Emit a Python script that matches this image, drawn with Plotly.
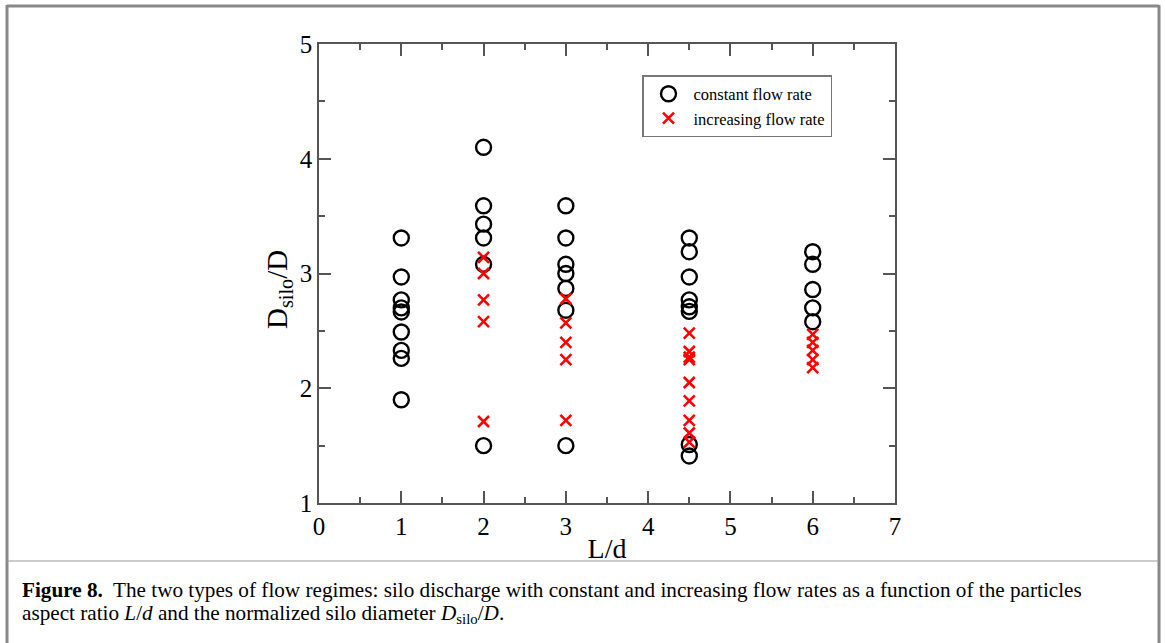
import plotly.graph_objects as go

# Data
const_x = [1]*9 + [2]*6 + [3]*7 + [4.5]*8 + [6]*5
const_y = [3.31, 2.97, 2.77, 2.70, 2.665, 2.49, 2.33, 2.26, 1.90,
           4.10, 3.59, 3.43, 3.31, 3.08, 1.50,
           3.59, 3.31, 3.08, 3.00, 2.87, 2.68, 1.50,
           3.31, 3.19, 2.97, 2.77, 2.71, 2.67, 1.51, 1.41,
           3.19, 3.08, 2.86, 2.70, 2.58]
incr_x = [2]*5 + [3]*5 + [4.5]*9 + [6]*5
incr_y = [3.14, 3.00, 2.77, 2.58, 1.71,
          2.78, 2.57, 2.40, 2.25, 1.72,
          2.48, 2.32, 2.27, 2.05, 1.89, 1.72, 1.61, 1.53, 2.25,
          2.47, 2.40, 2.33, 2.25, 2.18]

W, H = 1165, 643
L, R, T, B = 319, 895, 44, 503
def px(x): return (x - L) / (R - L)
def py(y): return (B - y) / (B - T)

AX = "#555555"
fig = go.Figure()
fig.add_trace(go.Scatter(x=const_x, y=const_y, mode="markers", name="constant flow rate",
                         marker=dict(symbol="circle-open", size=15, color="black",
                                     line=dict(width=2.4, color="black"))))
fig.add_trace(go.Scatter(x=incr_x, y=incr_y, mode="markers", name="increasing flow rate",
                         marker=dict(symbol="x-thin-open", size=11, color="red",
                                     line=dict(width=2.6, color="red"))))

tickfont = dict(family="Liberation Serif", size=25, color="black")
fig.update_layout(
    width=W, height=H, plot_bgcolor="white", paper_bgcolor="white",
    margin=dict(l=L, r=W - R, t=T, b=H - B, pad=0),
    showlegend=True,
    legend=dict(x=px(642), y=py(75), xanchor="left", yanchor="top",
                bgcolor="white", bordercolor="#777777", borderwidth=1.5,
                font=dict(family="Liberation Serif", size=16.5, color="black"),
                itemwidth=40, tracegroupgap=0),
    xaxis=dict(range=[0, 7], tick0=0, dtick=1, ticks="inside", ticklen=12, tickwidth=1.5,
               tickcolor=AX, showline=True, linecolor=AX, linewidth=1.5, mirror="ticks",
               showgrid=False, zeroline=False, tickfont=tickfont,
               minor=dict(dtick=0.5, ticks="inside", ticklen=6, tickwidth=1.5, tickcolor=AX),
               title=dict(text="L/d", font=dict(family="Liberation Serif", size=28, color="black"),
                          standoff=0)),
    yaxis=dict(range=[1, 5], tick0=1, dtick=1, ticks="inside", ticklen=12, tickwidth=1.5,
               tickcolor=AX, showline=True, linecolor=AX, linewidth=1.5, mirror="ticks",
               showgrid=False, zeroline=False, tickfont=tickfont,
               minor=dict(dtick=0.5, ticks="inside", ticklen=6, tickwidth=1.5, tickcolor=AX)),
)

fig.add_annotation(xref="paper", yref="paper", x=px(279), y=py(290), xanchor="center", yanchor="middle",
                   textangle=-90, showarrow=False,
                   font=dict(family="Liberation Serif", size=29, color="black"),
                   text="D<sub>silo</sub>/D")

# page frame
fr = dict(color="#888888", width=3)
fig.add_shape(type="line", xref="paper", yref="paper", x0=px(7), x1=px(1159), y0=py(6), y1=py(6), line=fr)
fig.add_shape(type="line", xref="paper", yref="paper", x0=px(7), x1=px(7), y0=py(5), y1=py(643), line=fr)
fig.add_shape(type="line", xref="paper", yref="paper", x0=px(1159), x1=px(1159), y0=py(5), y1=py(643), line=fr)
fig.add_shape(type="line", xref="paper", yref="paper", x0=px(7), x1=px(1159), y0=py(561), y1=py(561),
              line=dict(color="#999999", width=1))

capfont = dict(family="Liberation Serif", size=21.2, color="black")
fig.add_annotation(xref="paper", yref="paper", x=px(20), y=py(590), xanchor="left", yanchor="middle",
                   showarrow=False, font=capfont,
                   text="<b>Figure 8.</b>  The two types of flow regimes: silo discharge with constant and increasing flow rates as a function of the particles")
fig.add_annotation(xref="paper", yref="paper", x=px(20), y=py(614), xanchor="left", yanchor="middle",
                   showarrow=False, font=capfont,
                   text="aspect ratio <i>L</i>/<i>d</i> and the normalized silo diameter <i>D</i><sub>silo</sub>/<i>D</i>.")

fig.write_html("out.html", config={"displayModeBar": False},
               post_script="document.body.style.margin='0';document.body.style.overflow='hidden';")
